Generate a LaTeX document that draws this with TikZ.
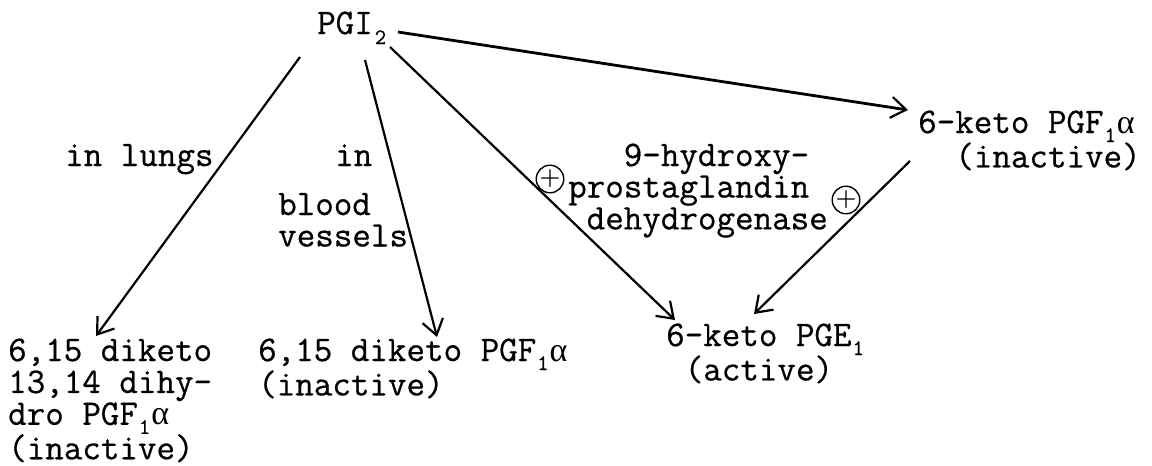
\documentclass[tikz,border=0pt]{standalone}
\usepackage{fontspec}
\newfontfamily\tw{Latin Modern Mono}[FakeBold=0.6]
\newfontfamily\grk{Liberation Serif}
\usetikzlibrary{arrows.meta}
\newcommand\sbs[1]{\kern1pt\raisebox{-0.25em}{\fontsize{22}{22}\selectfont #1}\kern1pt}
\newcommand\al{{\grk\fontsize{34}{31.5}\selectfont α}}
\newcommand\blk[1]{\begin{tabular}[t]{@{}l@{}}#1\end{tabular}}
\tikzset{
  txt/.style={anchor=base west, inner sep=0pt, font=\tw\fontsize{36}{31.5}\selectfont},
  arr/.style={line width=2.2pt, -{Straight Barb[length=15pt,width=21pt,line width=2.2pt]}},
  plus/.style={circle, draw, line width=1.4pt, minimum size=22pt, inner sep=0pt,
    font=\bfseries\fontsize{24}{24}\selectfont}
}
\begin{document}
\begin{tikzpicture}[x=1pt,y=-1pt]
\useasboundingbox (0,0) rectangle (1152,466);
\fill[white] (0,0) rectangle (1152,466);
% nodes
\node[txt] (pgi) at (317,34) {PGI\kern2pt\raisebox{-0.28em}{\fontsize{22}{22}\selectfont\bfseries 2}};
\node[txt] (pgf) at (918,133) {\blk{6-keto PGF\sbs{1}\al\\\phantom{00}(inactive)}};
\node[txt] (pge) at (666,346) {\blk{6-keto PGE\sbs{1}\\\phantom{0}(active)}};
\node[txt] (dih) at (8,361) {\blk{6,15 diketo\\13,14 dihy-\\dro PGF\sbs{1}\al\\(inactive)}};
\node[txt] (dik) at (258,361) {\blk{6,15 diketo PGF\sbs{1}\al\\(inactive)}};
% labels
\node[txt] (lungs) at (65,166) {in lungs};
\node[txt] (in) at (335,166) {in};
\node[txt] (blood) at (278,215) {\blk{blood\\vessels}};
\node[txt] (enz) at (568,166) {\blk{\phantom{000}9-hydroxy-\\prostaglandin\\\phantom{0}dehydrogenase}};
\node[plus] (p1) at (550,179) {+};
\node[plus] (p2) at (846,200) {+};
% connector ends
\coordinate (s1) at (398,32);
\coordinate (e1) at (908,110);
\coordinate (s2) at (300,57);
\coordinate (e2) at (96,336);
\coordinate (s3) at (365,60);
\coordinate (e3) at (437,337);
\coordinate (s4) at (390,47);
\coordinate (e4) at (675,320);
\coordinate (s5) at (910,161);
\coordinate (e5) at (754,314);
\draw[arr, line width=2.8pt] (s1) -- (e1);
\draw[arr] (s2) -- (e2);
\draw[arr] (s3) -- (e3);
\draw[arr] (s4) -- (e4);
\draw[arr] (s5) -- (e5);
\end{tikzpicture}
\end{document}
